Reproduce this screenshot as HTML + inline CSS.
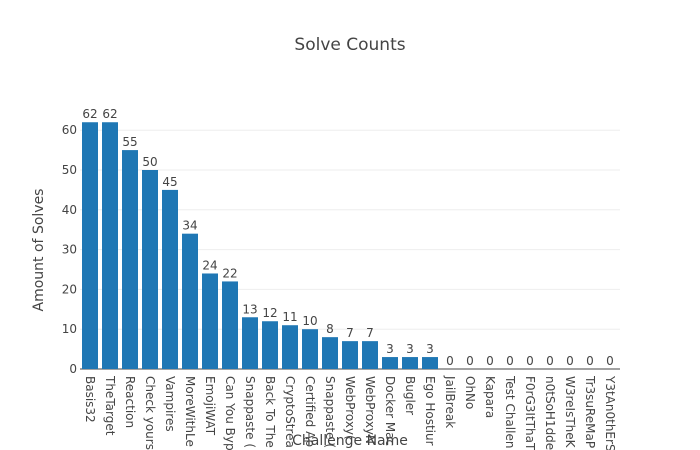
<!DOCTYPE html>
<html><head><meta charset="utf-8"><style>
html,body{margin:0;padding:0;background:#fff;overflow:hidden;width:700px;height:450px;font-family:"Liberation Sans","DejaVu Sans",sans-serif;}
svg{display:block;overflow:hidden;}
svg text{font-family:"DejaVu Sans","Liberation Sans",sans-serif;}
</style></head><body>
<svg id="chart" width="700" height="450">
<text x="350" y="50" text-anchor="middle" font-size="17" fill="#444">Solve Counts</text>
<g id="grid"></g><g id="bars"></g><g id="labels"></g>
<text transform="translate(43,250) rotate(-90)" text-anchor="middle" font-size="14" fill="#444">Amount of Solves</text>
<text x="350" y="445" text-anchor="middle" font-size="14" fill="#444">Challenge Name</text>
</svg>
<script>
const categories=["Basis32","TheTarget","Reaction","Check yours","Vampires","MoreWithLe","EmojiWAT","Can You Byp","Snappaste (","Back To The","CryptoStrea","Certified Ap","Snappaste (","WebProxy(","WebProxyN","Docker Mac","Bugler","Ego Hostiur","JailBreak","OhNo","Kapara","Test Challen","F0rG3ItThaT","n0tSoH1dde","W3reIsTheK","Tr3suReMaP","Y3tAn0thErS"];
const values=[62,62,55,50,45,34,24,22,13,12,11,10,8,7,7,3,3,3,0,0,0,0,0,0,0,0,0];
const yTicks=[0,10,20,30,40,50,60];
const NS="http://www.w3.org/2000/svg";
const x0=80,x1=620,y0=369,pxPer=3.98;
const band=(x1-x0)/categories.length;
const y=v=>y0-v*pxPer;
const grid=document.getElementById('grid'),bars=document.getElementById('bars'),labels=document.getElementById('labels');
function mk(tag,attrs,parent){const e=document.createElementNS(NS,tag);for(const k in attrs)e.setAttribute(k,attrs[k]);parent.appendChild(e);return e;}
yTicks.forEach(t=>{
  const l=mk('line',{x1:x0,x2:x1,y1:y(t),y2:y(t),stroke:t===0?'#444':'#eee','stroke-width':1},grid);
  
  
  const tx=mk('text',{x:x0-3,y:y(t)+4,'text-anchor':'end','font-size':12,fill:'#444'},grid);
  tx.textContent=t;
  
  
});
categories.forEach((c,i)=>{
  const cx=x0+band*(i+0.5),w=band*0.8,v=values[i];
  const r=mk('rect',{x:cx-w/2,y:y(v),width:w,height:y0-y(v),fill:'#1f77b4'},bars);
  
  
  const vt=mk('text',{x:cx,y:y(v)-4,'text-anchor':'middle','font-size':12,fill:'#444'},labels);
  vt.textContent=v;
  
  
  const ct=mk('text',{transform:`translate(${cx-4},376) rotate(90)`,'font-size':12,fill:'#444'},labels);
  ct.textContent=c;
  
  
});
</script>
</body></html>
